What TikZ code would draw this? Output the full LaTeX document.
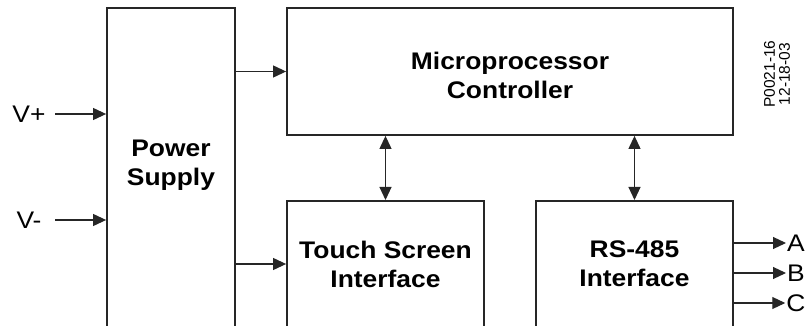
\documentclass[tikz,border=0pt]{standalone}
\usepackage{fontspec}
\setmainfont{Liberation Sans}[FakeStretch=1.1]
\newfontfamily\codefont{Liberation Sans}
\usetikzlibrary{arrows.meta}
\begin{document}
\begin{tikzpicture}[x=1pt,y=-1pt,
  box/.style={draw=black!85, line width=1.8pt, inner sep=0pt},
  lbl/.style={align=center, font=\bfseries\fontsize{24}{29}\selectfont},
  pin/.style={font=\fontsize{24}{28}\selectfont, inner sep=1pt},
  arr/.style={line width=1.1pt, draw=black!85, -{Triangle[length=13pt,width=12pt]}},
  arr2/.style={line width=1.1pt, draw=black!85, {Triangle[length=13pt,width=12pt]}-{Triangle[length=13pt,width=12pt]}}]
\useasboundingbox (0,0) rectangle (809,326);
\clip (0,0) rectangle (809,326);
% blocks
\node[box, minimum width=128pt, minimum height=340pt, anchor=north] (ps) at (171,7){};
\node[box, minimum width=446pt, minimum height=127pt] (mc) at (510,71.5){};
\node[box, minimum width=197pt, minimum height=140pt, anchor=north] (ts) at (385.5,200){};
\node[box, minimum width=197pt, minimum height=140pt, anchor=north] (rs) at (634.5,200){};
\node[lbl] (pstext) at (171,165){Power\\Supply};
\node[lbl] (mctext) at (510,75){Microprocessor\\Controller};
\node[lbl] (tstext) at (385.5,264){Touch Screen\\Interface};
\node[lbl] (rstext) at (634.5,264){RS-485\\Interface};
% inputs
\node[pin] (vp) at (29,114){V+};
\node[pin] (vm) at (29,220){V-};
\coordinate (vin) at (55,0);
\draw[arr](vin |- vp) -- (ps.west |- vp);
\draw[arr](vin |- vm) -- (ps.west |- vm);
% links
\draw[arr](ps.east |- mc.west) -- (mc.west);
\draw[arr](ps.east |- tstext) -- (ts.west |- tstext);
\draw[arr2](mc.south -| ts.north) -- (ts.north);
\draw[arr2](mc.south -| rs.north) -- (rs.north);
% outputs
\foreach \n/\y in {A/243,B/273,C/303}{
  \node[pin] (out\n) at (796,\y){\n};
  \draw[arr](rs.east |- out\n) -- (out\n.west);
}
\node[rotate=90, align=center, font=\codefont\fontsize{15.5}{15}\selectfont] (code) at (777,74){P0021-16\\12-18-03};
\end{tikzpicture}
\end{document}
